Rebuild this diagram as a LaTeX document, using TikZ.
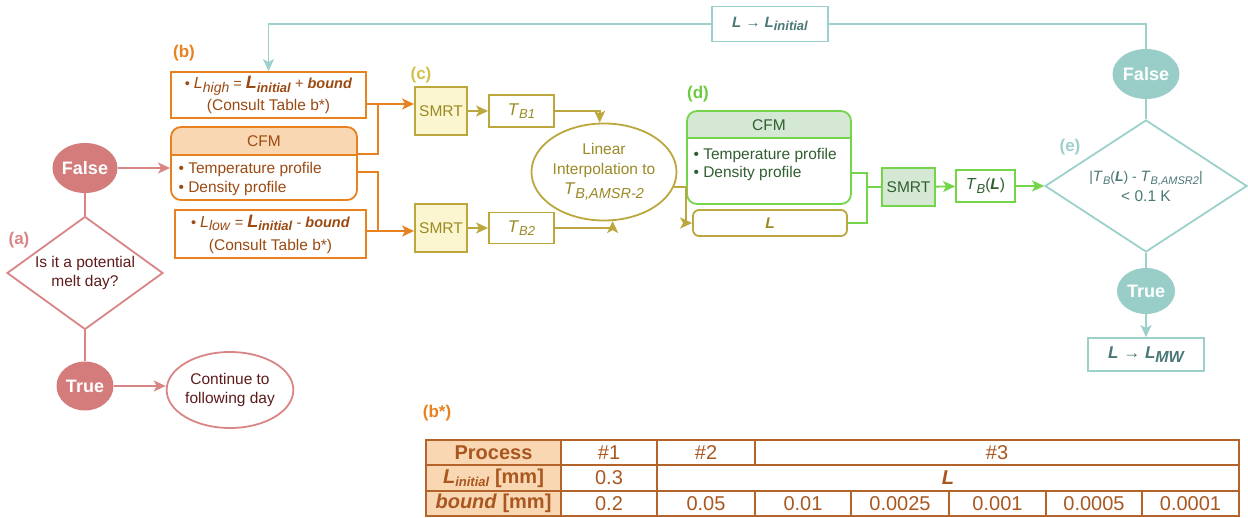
\documentclass[tikz,border=0pt]{standalone}
\usepackage{fontspec}
\setmainfont{Liberation Sans}
\usetikzlibrary{shapes.geometric,arrows.meta,calc}
\newcommand{\lsub}[2][12]{\raisebox{-3.5pt}{\fontsize{#1}{#1}\selectfont #2}}
\newcommand{\fs}[1]{\fontsize{#1}{#1}\selectfont}
\definecolor{aR}{HTML}{D98585}
\definecolor{aFill}{HTML}{D47B7B}
\definecolor{aText}{HTML}{5E1B1B}
\definecolor{bO}{HTML}{E8821E}
\definecolor{bFill}{HTML}{F8D7B2}
\definecolor{bText}{HTML}{9B4A12}
\definecolor{cO}{HTML}{BBA73E}
\definecolor{cFill}{HTML}{FBF6D0}
\definecolor{cText}{HTML}{9A8A24}
\definecolor{cLab}{HTML}{D2C14C}
\definecolor{dG}{HTML}{74D44A}
\definecolor{dFill}{HTML}{D5E8D4}
\definecolor{dText}{HTML}{2F5E2F}
\definecolor{dLab}{HTML}{6CCC3C}
\definecolor{eT}{HTML}{9CD1CB}
\definecolor{eFill}{HTML}{99CEC8}
\definecolor{eText}{HTML}{4A7876}
\definecolor{tB}{HTML}{B4632A}
\definecolor{tText}{HTML}{A9561F}
\begin{document}
\begin{tikzpicture}[x=1pt,y=-1pt,font=\fontsize{15.5}{19}\selectfont,
  tip/.style={-{Stealth[length=12pt,width=11pt,inset=3pt]}},
  bx/.style={draw, line width=1.8pt, inner sep=0pt, align=center},
  el/.style={ellipse, inner sep=0pt, align=center},
  lab/.style={font=\bfseries\fs{17}},
  tf/.style={draw=none, text=white, font=\bfseries\fs{18}},
  al/.style={draw=aR, line width=1.8pt}, aa/.style={al, tip},
  ol/.style={draw=bO, line width=1.8pt}, oa/.style={ol, tip},
  cl/.style={draw=cO, line width=1.8pt}, ca/.style={cl, tip},
  gl/.style={draw=dG, line width=1.8pt}, ga/.style={gl, tip},
  tl/.style={draw=eT, line width=1.8pt}, ta/.style={tl, tip},
  cell/.style={draw=tB, line width=1.3pt, inner sep=0pt, text=tText, font=\fs{20}},
  hcell/.style={cell, fill=bFill}]
\useasboundingbox (0,0) rectangle (1248,518);

% ---------- (a)
\node[lab, text=aR] (labA) at (19,240) {(a)};
\node[el, fill=aFill, tf, minimum width=57pt, minimum height=50pt] (fA) at (85,168) {False};
\node[diamond, draw=aR, line width=1.8pt, aspect=1.38, minimum width=156pt, minimum height=113pt, inner sep=0pt, text=aText, align=center] (dA) at (85,273) {Is it a potential\\melt day?};
\node[el, fill=aFill, tf, minimum width=57pt, minimum height=49pt] (tA) at (85,386) {True};
\node[el, draw=aR, line width=1.8pt, minimum width=118pt, minimum height=76pt, text=aText] (cont) at (230,390) {Continue to\\following day};

% ---------- (b)
\node[lab, text=bO] (labB) at (184,53) {(b)};
\node[bx, draw=bO, fill=white, minimum width=195pt, minimum height=46pt, text=bText, font=\fs{14.5}\setlength{\baselineskip}{22pt}] (LH) at (268.5,95)
 {\textbullet\ \textit{\fs{16}L}\lsub[14]{\textit{high}} = \textbf{\textit{\fs{18}L}\lsub[13]{\textit{initial}}} + \textbf{\textit{bound}}\\{\fs{15.5}(Consult Table b*)}};
\node[bx, draw=bO, fill=white, minimum width=191pt, minimum height=48pt, text=bText, font=\fs{14.5}\setlength{\baselineskip}{23pt}] (LL) at (270.5,234)
 {\textbullet\ \textit{\fs{16}L}\lsub[14]{\textit{low}} = \textbf{\textit{\fs{18}L}\lsub[13]{\textit{initial}}} - \textbf{\textit{bound}}\\{\fs{15.5}(Consult Table b*)}};
\begin{scope}
  \clip[rounded corners=10pt] (171,127) rectangle (357,200);
  \fill[bFill] (171,127) rectangle (357,155);
\end{scope}
\node[bx, draw=bO, rounded corners=10pt, minimum width=186pt, minimum height=73pt] (cfmB) at (264,163.5) {};
\draw[ol] (171,155) -- (357,155);
\node[text=bText] (cfmBh) at (264,141) {CFM};
\node[anchor=west, align=left, text=bText] (cfmBt) at (175,178.5) {\textbullet\ Temperature profile\\\textbullet\ Density profile};

% ---------- (c)
\node[lab, text=cLab] (labC) at (421,75) {(c)};
\node[bx, draw=cO, fill=cFill, minimum width=52pt, minimum height=48pt, text=cText] (S1) at (441,111) {SMRT};
\node[bx, draw=cO, fill=white, minimum width=65pt, minimum height=32pt, text=cText] (T1) at (521.5,111) {\textit{\fs{17}T}\lsub[13]{\textit{B1}}};
\node[bx, draw=cO, fill=cFill, minimum width=52pt, minimum height=48pt, text=cText] (S2) at (441,228) {SMRT};
\node[bx, draw=cO, fill=white, minimum width=65pt, minimum height=31pt, text=cText] (T2) at (521.5,228) {\textit{\fs{17}T}\lsub[13]{\textit{B2}}};
\node[el, draw=cO, line width=1.8pt, minimum width=125pt, minimum height=97pt, text=cText, font=\fs{15.5}\setlength{\baselineskip}{20pt}] (LI) at (604,172)
 {Linear\\Interpolation to\\\textit{\fs{17}T}\lsub[14.5]{\textit{B,AMSR-2}}};
\node[bx, draw=cO, fill=white, rounded corners=6pt, minimum width=154pt, minimum height=26pt, text=cText, font=\bfseries\itshape\fs{15.5}] (Lb) at (770,223) {L};

% ---------- (d)
\node[lab, text=dLab] (labD) at (698,94) {(d)};
\begin{scope}
  \clip[rounded corners=10pt] (687,111) rectangle (851,204);
  \fill[dFill] (687,111) rectangle (851,138);
\end{scope}
\node[bx, draw=dG, rounded corners=10pt, minimum width=164pt, minimum height=93pt] (cfmD) at (769,157.5) {};
\draw[gl] (687,138) -- (851,138);
\node[text=dText] (cfmDh) at (769,125) {CFM};
\node[anchor=west, align=left, text=dText, font=\fs{15.5}\setlength{\baselineskip}{18pt}] (cfmDt) at (690,164) {\textbullet\ Temperature profile\\\textbullet\ Density profile};
\node[bx, draw=dG, fill=dFill, minimum width=53pt, minimum height=38pt, text=dText] (S3) at (908.5,187) {SMRT};
\node[bx, draw=dG, fill=white, minimum width=59pt, minimum height=32pt, text=dText] (TBL) at (985.5,186) {\textit{\fs{16}T}\lsub[13]{\textit{B}}(\textbf{\textit{L}})};

% ---------- (e)
\node[lab, text=eT] (labE) at (1070,147) {(e)};
\node[diamond, draw=eT, line width=1.8pt, aspect=1.55, minimum width=202pt, minimum height=132pt, inner sep=0pt, text=eText, align=center, font=\fs{14}\setlength{\baselineskip}{20pt}] (dE) at (1146,186)
 {|\textit{\fs{15}T}\lsub[11]{\textit{B}}(\textbf{\textit{L}}) - \textit{\fs{15}T}\lsub[11]{\textit{B,AMSR2}}|\\{\fs{15.5}< 0.1 K}};
\node[el, fill=eFill, tf, minimum width=67pt, minimum height=50pt] (Fe) at (1146,74) {False};
\node[el, fill=eFill, tf, minimum width=58pt, minimum height=46pt] (Te) at (1146,291) {True};
\node[bx, draw=eT, fill=white, minimum width=116pt, minimum height=33pt, text=eText, font=\bfseries\itshape\fs{17}] (LMW) at (1146,354.5) {L {\fs{17}\textmd{\textup{→}}} L\lsub[16]{MW}};
\node[bx, draw=eT, fill=white, minimum width=116pt, minimum height=35pt, text=eText, font=\bfseries\itshape\fs{15}] (LLi) at (770,24) {L {\fs{15}\textmd{\textup{→}}} L\lsub[13]{initial}};

% ---------- table (b*)
\node[lab, text=bO] (labBs) at (437,413) {(b*)};
\node[hcell, minimum width=135pt, minimum height=25pt, font=\bfseries\fs{20}] (pr) at (493.5,452.5) {Process};
\node[cell, minimum width=96pt, minimum height=25pt] (h1) at (609,452.5) {\#1};
\node[cell, minimum width=98pt, minimum height=25pt] (h2) at (706,452.5) {\#2};
\node[cell, minimum width=484pt, minimum height=25pt] (h3) at (997,452.5) {\#3};
\node[hcell, minimum width=135pt, minimum height=26pt, font=\bfseries\fs{20}] (li) at (493.5,478) {\textit{L}\lsub[13]{\textit{initial}} [mm]};
\node[cell, minimum width=96pt, minimum height=26pt] (v03) at (609,478) {0.3};
\node[cell, minimum width=582pt, minimum height=26pt, font=\bfseries\itshape\fs{20}] (vL) at (948,478) {L};
\node[hcell, minimum width=135pt, minimum height=25pt, font=\bfseries\fs{20}] (bd) at (493.5,503.5) {\textit{bound} [mm]};
\node[cell, minimum width=96pt, minimum height=25pt] (v1) at (609,503.5) {0.2};
\node[cell, minimum width=98pt, minimum height=25pt] (v2) at (706,503.5) {0.05};
\node[cell, minimum width=96pt, minimum height=25pt] (v3) at (803,503.5) {0.01};
\node[cell, minimum width=98pt, minimum height=25pt] (v4) at (900,503.5) {0.0025};
\node[cell, minimum width=97pt, minimum height=25pt] (v5) at (997.5,503.5) {0.001};
\node[cell, minimum width=96pt, minimum height=25pt] (v6) at (1094,503.5) {0.0005};
\node[cell, minimum width=97pt, minimum height=25pt] (v7) at (1190.5,503.5) {0.0001};

% ---------- connectors
\draw[aa] (fA.east) -- (fA.east -| cfmB.west);
\draw[al] (fA) -- (dA.north);
\draw[al] (dA.south) -- (tA);
\draw[aa] (tA.east) -- (tA.east -| cont.west);

\coordinate (jb1) at (378,104);
\coordinate (jb2) at (378,231);
\coordinate (cfmo1) at (357,154);
\coordinate (cfmo2) at (357,172);
\draw[oa] (LH.east |- jb1) -- (S1.west |- jb1);
\draw[ol] (cfmo1) -| (jb1);
\draw[oa] (LL.east |- jb2) -- (S2.west |- jb2);
\draw[ol] (cfmo2) -| (jb2);

\draw[ca] (S1) -- (T1);
\draw[ca] (S2) -- (T2);
\draw[ca] (T1.east) -| (LI.95);
\draw[ca] (T2.east) -| (LI.-80);
\draw[ca] (LI.-12) -- ++(12,0) |- (Lb.west);

\coordinate (dj) at (867,187);
\coordinate (cfmDo) at (851,173);
\draw[gl] (cfmDo) -| (dj);
\draw[gl] (Lb.east) -| (dj);
\draw[gl] (dj) -- (S3.west);
\draw[ga] (S3) -- (TBL);
\draw[ga] (TBL.east) -- (dE.west);

\draw[tl] (Fe) -- (dE.north);
\draw[tl] (dE.south) -- (Te);
\draw[ta] (Te) -- (LMW);
\draw[tl] (Fe.north) |- (LLi.east);
\draw[ta] (LLi.west) -| (LH.north);
\end{tikzpicture}
\end{document}
